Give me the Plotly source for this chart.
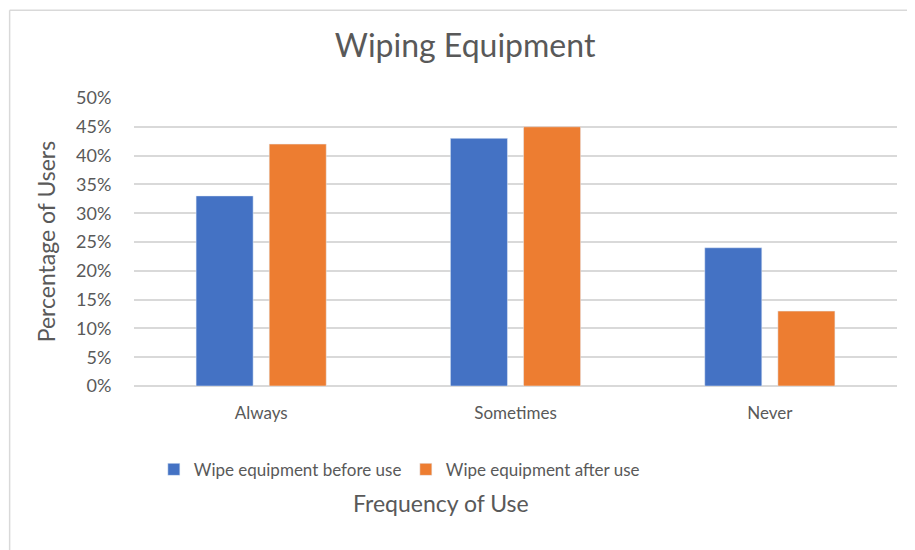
import plotly.graph_objects as go

categories = ["Always", "Sometimes", "Never"]
before_use = [33, 43, 24]
after_use = [42, 45, 13]
y_ticks = [0, 5, 10, 15, 20, 25, 30, 35, 40, 45, 50]
y_tick_labels = [f"{t}%" for t in y_ticks]

BLUE = "#4472C4"
ORANGE = "#ED7D31"
GREY = "#595959"
GRID = "#D9D9D9"
FONT = "Lato"

fig = go.Figure([
    go.Bar(name="Wipe equipment before use", x=categories, y=before_use,
           marker_color=BLUE),
    go.Bar(name="Wipe equipment after use", x=categories, y=after_use,
           marker_color=ORANGE),
])

# page body adds 8px margin, so the figure is a bit smaller than the window
fig.update_layout(
    width=907, height=542,
    barmode="group",
    bargap=0.425,
    bargroupgap=0.22,
    paper_bgcolor="white",
    plot_bgcolor="white",
    font=dict(family=FONT, color=GREY, size=17),
    margin=dict(l=126, r=18, t=90, b=164),
    title=dict(text="Wiping Equipment", font=dict(size=32, color=GREY),
               x=0.504, xref="container", xanchor="center",
               y=0.930, yref="container", yanchor="middle"),
    showlegend=True,
    legend=dict(orientation="h", x=0.026, xanchor="left", y=-0.291,
                yanchor="middle", font=dict(size=17), entrywidth=207,
                itemwidth=30),
    xaxis=dict(showgrid=False, showline=False, ticks="outside",
               ticklen=12, tickcolor="rgba(0,0,0,0)",
               tickfont=dict(size=17)),
    yaxis=dict(range=[0, 50], tickvals=y_ticks, ticktext=y_tick_labels,
               showgrid=True, gridcolor=GRID, gridwidth=1.5,
               zeroline=True, zerolinecolor=GRID, zerolinewidth=1.5,
               ticks="outside", ticklen=18, tickcolor="rgba(0,0,0,0)",
               tickfont=dict(size=18)),
    annotations=[
        dict(text="Frequency of Use", xref="paper", yref="paper",
             x=0.403, y=-0.406, showarrow=False,
             xanchor="center", yanchor="middle",
             font=dict(size=23, color=GREY)),
        dict(text="Percentage of Users", xref="paper", yref="paper",
             x=-0.115, y=0.5, textangle=-90, showarrow=False,
             xanchor="center", yanchor="middle",
             font=dict(size=23, color=GREY)),
    ],
    shapes=[
        dict(type="line", xref="paper", yref="paper", x0=-0.163, x1=1.05,
             y0=1.305, y1=1.305, line=dict(color=GRID, width=1.5)),
        dict(type="line", xref="paper", yref="paper", x0=-0.163, x1=-0.163,
             y0=1.305, y1=-0.6, line=dict(color=GRID, width=1.5)),
    ],
)

fig.write_html("out.html")
